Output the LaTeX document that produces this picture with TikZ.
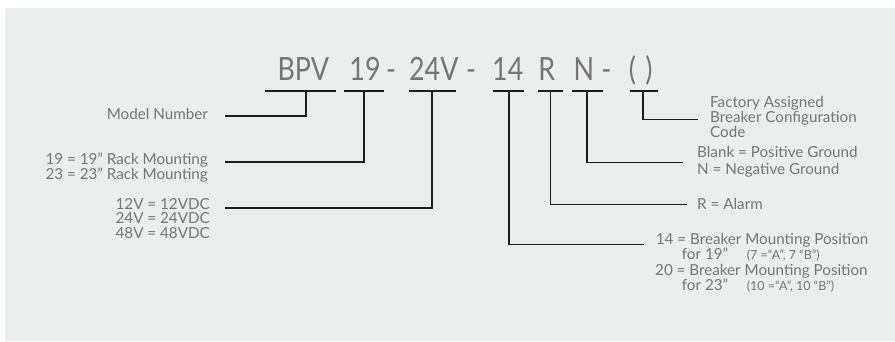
\documentclass[tikz,border=0pt]{standalone}
\usepackage{fontspec}
\setmainfont{Lato}
\newfontfamily\titlefont{Lato}[FakeStretch=0.84]
\definecolor{bgc}{HTML}{ECEDED}
\definecolor{txt}{HTML}{757575}
\definecolor{ln}{HTML}{1E1E1E}
\begin{document}
\begin{tikzpicture}[x=1pt,y=-1pt,
  title/.style={anchor=base,inner sep=0pt,text=txt,font=\titlefont\fontsize{32}{32}\selectfont},
  lbl/.style={inner sep=0pt,text=txt,font=\fontsize{15.2}{15}\selectfont},
  small/.style={inner sep=0pt,text=txt,font=\fontsize{12.5}{12}\selectfont},
  conn/.style={draw=ln,line width=1.6pt}]
\useasboundingbox (0,0) rectangle (895,341);
\fill[bgc] (5,8) rectangle (895,341);
% title parts
\node[title] (tBPV) at (303.3,80.7) {BPV};
\node[title] (t19) at (365,80.7) {19};
\node[title] (d1) at (391,80.7) {-};
\node[title] (t24) at (433.8,80.7) {24V};
\node[title] (d2) at (471,80.7) {-};
\node[title] (t14) at (507.8,80.7) {14};
\node[title] (tR) at (546.7,80.7) {R};
\node[title] (tN) at (584,80.7) {N};
\node[title] (d3) at (606.3,80.7) {-};
\node[title] (tP1) at (632.5,80.7) {(};
\node[title] (tP2) at (649,80.7) {)};
% bar coordinates
\coordinate (bpvL) at (265,90.7); \coordinate (bpvR) at (336,90.7); \coordinate (bpvS) at (305.7,90.7);
\coordinate (aL) at (344,90.7); \coordinate (aR) at (384,90.7); \coordinate (aS) at (364,90.7);
\coordinate (bL) at (409,90.7); \coordinate (bR) at (456,90.7); \coordinate (bS) at (432,90.7);
\coordinate (cL) at (493,90.7); \coordinate (cR) at (524,90.7); \coordinate (cS) at (509,90.7);
\coordinate (rL) at (538,90.7); \coordinate (rR) at (563,90.7); \coordinate (rS) at (550.5,90.7);
\coordinate (nL) at (572,90.7); \coordinate (nR) at (603,90.7); \coordinate (nS) at (587,90.7);
\coordinate (pL) at (630,90.7); \coordinate (pR) at (658,90.7); \coordinate (pS) at (643,90.7);
% line end points
\coordinate (eModel) at (225,115.7);
\coordinate (eRack) at (225,161.7);
\coordinate (eVolt) at (225,207.7);
\coordinate (eBrk) at (644,244.3);
\coordinate (eAlarm) at (687,204.3);
\coordinate (eGnd) at (683,162.3);
\coordinate (eFac) at (698,119.5);
% labels
\node[lbl,anchor=east] (model) at (208,114) {Model Number};
\node[lbl,anchor=east,align=right] (rack) at (208,167.5) {19 = 19” Rack Mounting\\23 = 23” Rack Mounting};
\node[lbl,anchor=east,align=right,font=\fontsize{15.2}{14.5}\selectfont] (volt) at (210,218.5) {12V = 12VDC\\24V = 24VDC\\48V = 48VDC};
\node[lbl,anchor=west,align=left] (fac) at (710,116.5) {Factory Assigned\\Breaker Configuration\\Code};
\node[lbl,anchor=west,align=left,font=\fontsize{15.2}{17.7}\selectfont] (gnd) at (697,161.8) {Blank = Positive Ground\\N = Negative Ground};
\node[lbl,anchor=base west] (alarm) at (697,209) {R = Alarm};
\node[lbl,anchor=base west] (b14) at (655.7,244.5) {14 = Breaker Mounting Position};
\node[lbl,anchor=base west] (f19) at (681.7,259.8) {for 19”};
\node[small,anchor=base west] (s19) at (746.7,259.8) {(7 =“A”, 7 “B”)};
\node[lbl,anchor=base west] (b20) at (655,275.5) {20 = Breaker Mounting Position};
\node[lbl,anchor=base west] (f23) at (681.7,290.8) {for 23”};
\node[small,anchor=base west] (s23) at (746.7,290.8) {(10 =“A”, 10 “B”)};
% connectors
\draw[conn] (bpvL) -- (bpvR);
\draw[conn] (bpvS) |- (eModel);
\draw[conn] (aL) -- (aR);
\draw[conn] (aS) |- (eRack);
\draw[conn] (bL) -- (bR);
\draw[conn] (bS) |- (eVolt);
\draw[conn] (cL) -- (cR);
\draw[conn] (cS) |- (eBrk);
\draw[conn] (rL) -- (rR);
\draw[conn] (rS) |- (eAlarm);
\draw[conn] (nL) -- (nR);
\draw[conn] (nS) |- (eGnd);
\draw[conn] (pL) -- (pR);
\draw[conn] (pS) |- (eFac);
\end{tikzpicture}
\end{document}
